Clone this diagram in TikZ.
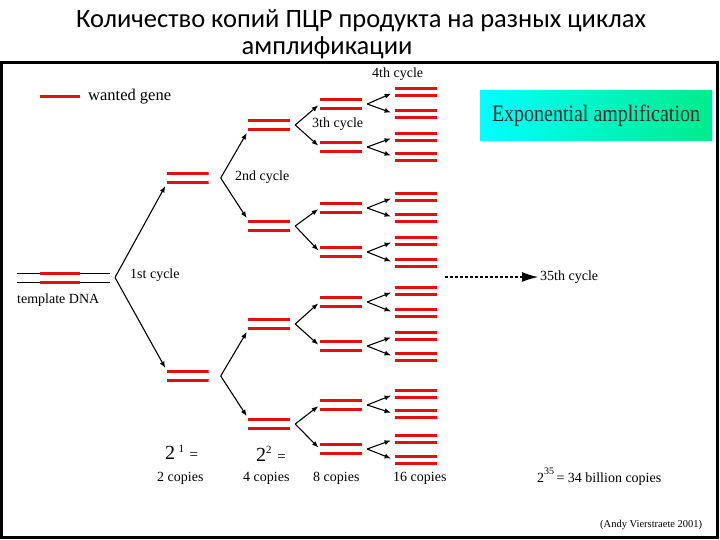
\documentclass[tikz,border=0pt]{standalone}
\usepackage{fontspec}
\setmainfont{Liberation Serif}
\newfontfamily\titlefont{Carlito}
\usepackage{graphicx}
\usetikzlibrary{arrows.meta}
\definecolor{genered}{RGB}{228,16,16}
\definecolor{boxcyan}{RGB}{0,255,255}
\definecolor{boxgreen}{RGB}{0,235,140}

\begin{document}
\begin{tikzpicture}[x=1pt, y=-1pt,
    copy/.style={minimum width=42pt, minimum height=12pt, inner sep=0pt,
      path picture={
        \fill[genered] (path picture bounding box.north west) rectangle ([yshift=-3pt]path picture bounding box.north east);
        \fill[genered] (path picture bounding box.south west) rectangle ([yshift=3pt]path picture bounding box.south east);}},
    copysmall/.style={copy, minimum height=10pt},
    arrow/.style={-{Latex[length=6.5pt,width=5pt]}, line width=1.1pt, shorten >=2pt},
    txt/.style={font=\fontsize{14}{16}\selectfont, inner sep=0pt, anchor=west},
  ]
    \useasboundingbox (0,0) rectangle (720,540);
    % title and frame
    \node[font=\titlefont\fontsize{26.5}{28}\selectfont] (title1) at (361,21) {Количество копий ПЦР продукта на разных циклах};
    \node[font=\titlefont\fontsize{26.5}{28}\selectfont] (title2) at (327,48) {амплификации};
    \draw[line width=3pt] (1.5,62.5) rectangle (717.5,537.5);

    % legend
    \draw[genered, line width=3pt] (40,97) -- (80,97);
    \node[txt, font=\fontsize{16.5}{18}\selectfont] (legend) at (88,97) {wanted gene};

    % template DNA
    \draw[line width=1pt] (17,273) -- (110,273);
    \draw[line width=1pt] (17,282) -- (110,282);
    \draw[genered, line width=3pt] (40,273) -- (80,273);
    \draw[genered, line width=3pt] (40,282) -- (80,282);
    \node[txt] (tpl) at (17,300) {template DNA};
    \coordinate (v0) at (115,277.5);

    % copies per cycle
    \foreach \y [count=\i] in {178,376}
      \node[copy] (ga\i) at (187.5,\y) {};
    \foreach \y [count=\i] in {125,226,324,424}
      \node[copy] (gb\i) at (269,\y) {};
    \foreach \y [count=\i] in {104,147,208,252,302,346,405,449}
      \node[copy] (gc\i) at (341,\y) {};
    \foreach \y [count=\i] in {92,114,137,157,197,218,241,263,291,313,336,357,394,414,439,460}
      \node[copysmall] (gd\i) at (416,\y) {};

    % branching arrows
    \draw[arrow] (v0) -- (ga1.south west);
    \draw[arrow] (v0) -- (ga2.north west);
    \foreach \i in {1,2} {
      \pgfmathtruncatemacro\up{2*\i-1}
      \pgfmathtruncatemacro\dn{2*\i}
      \coordinate (va\i) at ([xshift=12pt]ga\i.east);
      \draw[arrow] (va\i) -- (gb\up.south west);
      \draw[arrow] (va\i) -- (gb\dn.north west);
    }
    \foreach \i in {1,...,4} {
      \pgfmathtruncatemacro\up{2*\i-1}
      \pgfmathtruncatemacro\dn{2*\i}
      \coordinate (vb\i) at ([xshift=5pt]gb\i.east);
      \draw[arrow] (vb\i) -- (gc\up.west);
      \draw[arrow] (vb\i) -- (gc\dn.west);
    }
    \foreach \i in {1,...,8} {
      \pgfmathtruncatemacro\up{2*\i-1}
      \pgfmathtruncatemacro\dn{2*\i}
      \coordinate (vc\i) at ([xshift=5pt]gc\i.east);
      \draw[arrow, shorten >=4pt] (vc\i) -- (gd\up.west);
      \draw[arrow, shorten >=4pt] (vc\i) -- (gd\dn.west);
    }

    % cycle labels
    \node[txt] (c1) at (130,275) {1st cycle};
    \node[txt] (c2) at (235,177) {2nd cycle};
    \node[txt] (c3) at (312,124) {3th cycle};
    \node[txt] (c4) at (372,74) {4th cycle};
    \node[txt] (c35) at (540,277) {35th cycle};
    \coordinate (dots) at (445,277);
    \draw[-{Latex[length=16pt,width=10pt]}, line width=1.2pt, dash pattern=on 3pt off 2pt, shorten >=2pt] (dots) -- (c35.west);

    % box
    \node[minimum width=232pt, minimum height=50pt, inner sep=0pt,
      left color=boxcyan, middle color=boxcyan, right color=boxgreen,
      font=\fontsize{23.5}{26}\selectfont, text=black!85] (expbox) at (596,116)
      {\scalebox{0.85}[1]{Exponential amplification}};

    % copy counts
    \node[txt, font=\fontsize{20}{22}\selectfont] (p1) at (165,452)
      {2\,\raisebox{7pt}{\fontsize{11}{12}\selectfont 1}\;{\fontsize{15}{16}\selectfont =}};
    \node[txt, font=\fontsize{20}{22}\selectfont] (p2) at (256,454)
      {2\raisebox{8pt}{\fontsize{11}{12}\selectfont 2}\;{\fontsize{15}{16}\selectfont =}};
    \node[txt] (n2) at (157,478) {2 copies};
    \node[txt] (n4) at (243,478) {4 copies};
    \node[txt] (n8) at (313,478) {8 copies};
    \node[txt] (n16) at (393,478) {16 copies};
    \node[txt] (n35) at (537,477)
      {2\raisebox{8pt}{\fontsize{10}{11}\selectfont 35}\,= 34 billion copies};
    \node[txt, font=\fontsize{10.5}{12}\selectfont] (credit) at (600,525) {(Andy Vierstraete 2001)};
\end{tikzpicture}
\end{document}
